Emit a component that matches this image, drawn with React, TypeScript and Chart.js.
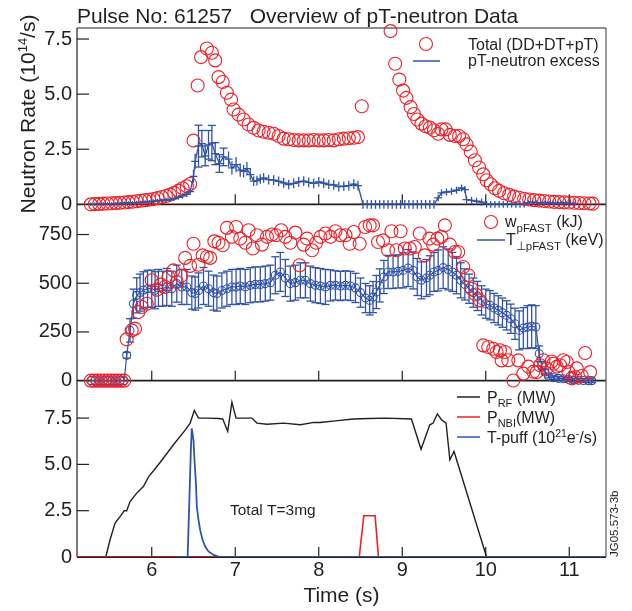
import React, { useEffect, useRef } from 'react';
import { Chart, registerables } from 'chart.js';

Chart.register(...registerables);

const FONT = "'Liberation Sans', Arial, Helvetica, sans-serif";
const INK = '#231f20';
const RED = 'rgb(236, 32, 40)';
const BLUE = 'rgb(50, 84, 166)';

// ---- axes ----
const X_MIN = 5.105;
const X_MAX = 11.44;
const X_TICKS = [6, 7, 8, 9, 10, 11];
const TOP_MAX = 8.0;
const MID_MAX = 905;
const BOT_MAX = 9.52;
const TOP_TICKS = [0, 2.5, 5, 7.5];
const MID_TICKS = [0, 250, 500, 750];
const BOT_TICKS = [0, 2.5, 5, 7.5];

// ---- top panel: total neutron rate (10^14/s) ----
const topTotalT = [5.27,5.32,5.37,5.42,5.47,5.52,5.57,5.62,5.67,5.72,5.77,5.82,5.87,5.92,5.97,6.02,6.07,6.12,6.17,6.22,6.27,6.32,6.37,6.42,6.46,
  6.50,6.55,6.59,6.66,6.72,6.76,6.80,6.85,6.90,6.95,
  6.98,7.04,7.10,7.16,7.22,7.28,7.34,7.40,7.46,7.52,
  7.58,7.64,7.70,7.76,7.82,7.88,7.94,8.00,8.06,8.12,
  8.18,8.24,8.30,8.36,8.42,8.47,8.515,
  8.86,8.915,8.965,9.01,9.05,9.10,9.14,9.18,9.23,9.28,
  9.33,9.38,9.43,9.47,9.52,9.57,9.63,9.68,9.73,9.77,
  9.82,9.87,9.92,9.97,10.01,10.06,10.11,10.16,10.22,10.28,
  10.34,10.40,10.46,10.52,10.58,10.64,10.70,10.76,10.82,10.88,
  10.94,11.00,11.06,11.12,11.18,11.24,11.28];
const topTotalV = [0.00,0.01,0.02,0.03,0.04,0.05,0.06,0.07,0.08,0.10,0.12,0.14,0.16,0.19,0.21,0.24,0.28,0.33,0.38,0.44,0.52,0.62,0.73,0.82,0.92,
  2.89,5.39,6.68,7.07,6.88,6.53,5.77,5.55,5.06,4.75,
  4.30,4.07,3.85,3.62,3.47,3.35,3.29,3.25,3.20,3.10,
  2.98,2.95,2.92,2.90,2.90,2.90,2.92,2.90,2.90,2.92,
  2.90,2.95,2.98,3.00,3.02,3.05,4.45,
  7.86,6.38,5.66,5.16,4.83,4.41,4.10,3.85,3.66,3.54,
  3.48,3.36,3.20,3.40,3.40,3.15,3.10,3.10,2.95,2.72,
  2.39,2.00,1.67,1.36,1.09,0.91,0.73,0.61,0.50,0.43,
  0.35,0.30,0.25,0.22,0.19,0.17,0.15,0.13,0.11,0.10,
  0.09,0.08,0.07,0.06,0.05,0.04,0.03];

// ---- top panel: pT-neutron excess ----
const topExT = [5.27,5.32,5.37,5.42,5.47,5.52,5.57,5.62,5.67,5.72,5.77,5.82,5.87,5.92,5.97,6.02,6.07,6.12,6.17,6.22,6.27,6.32,6.37,6.42,6.46,
  6.50,6.52,6.56,6.60,6.64,6.68,6.72,6.76,6.81,6.86,
  6.92,6.96,7.01,7.06,7.10,7.14,7.18,7.22,7.26,7.30,
  7.34,7.40,7.46,7.52,7.58,7.64,7.70,7.76,7.82,7.88,
  7.94,8.00,8.06,8.12,8.18,8.24,8.30,8.36,8.42,8.47,
  8.53,8.58,8.63,8.68,8.73,8.78,8.83,8.88,8.93,8.98,9.03,9.08,9.13,9.18,9.23,9.28,9.33,9.38,
  9.43,9.47,9.53,9.59,9.65,9.71,9.75,9.77,9.83,9.89,9.95,
  10.01,10.06,10.11,10.16,10.21,10.26,10.31,10.36,10.41,10.46,
  10.51,10.56,10.61,10.66,10.71,10.76,10.81,10.86,10.91,10.96,11.01,11.06];
const topExV = [0,0,0.01,0.01,0.02,0.02,0.03,0.04,0.05,0.06,0.07,0.08,0.09,0.10,0.12,0.14,0.16,0.18,0.20,0.22,0.26,0.32,0.38,0.45,0.58,
  1.27,1.95,2.64,2.75,2.20,2.70,2.78,2.30,1.85,2.15,
  2.05,1.65,1.80,1.55,1.50,1.62,1.35,1.05,1.08,1.15,
  1.20,1.12,1.10,1.04,0.97,0.90,0.95,1.02,1.05,1.00,
  0.95,1.02,0.96,0.90,0.88,0.80,0.82,0.85,0.92,0.85,
  0,0,0,0,0,0,0,0,0,0,0,0,0,0,0,0,0,0,
  0.29,0.52,0.56,0.59,0.64,0.74,0.67,0.21,0.18,0.14,0.10,
  0,0,0,0,0,0,0,0,0,0,
  0.08,0.10,0.08,0.07,0.09,0.06,0.07,0.05,0.06,0.05,0.04,0.03];
const topExE = [0.08,0.08,0.08,0.08,0.08,0.08,0.08,0.08,0.08,0.08,0.08,0.08,0.08,0.08,0.08,0.09,0.09,0.09,0.1,0.1,0.1,0.1,0.12,0.12,0.15,
  0.3,0.35,0.95,0.6,0.45,0.65,0.8,0.5,0.4,0.4,
  0.35,0.3,0.35,0.3,0.28,0.3,0.25,0.22,0.22,0.22,
  0.22,0.22,0.22,0.22,0.22,0.22,0.22,0.22,0.22,0.22,
  0.22,0.22,0.22,0.22,0.22,0.22,0.22,0.22,0.22,0.22,
  0.2,0.2,0.2,0.2,0.2,0.2,0.2,0.2,0.2,0.2,0.2,0.2,0.2,0.2,0.2,0.2,0.2,0.2,
  0.16,0.16,0.16,0.16,0.16,0.16,0.16,0.16,0.16,0.16,0.16,
  0.15,0.15,0.15,0.15,0.15,0.15,0.15,0.15,0.15,0.15,
  0.1,0.1,0.1,0.1,0.1,0.1,0.1,0.1,0.1,0.1,0.1,0.1];

// ---- middle panel: W pFAST (kJ) ----
const midWT = [5.27,5.31,5.35,5.39,5.43,5.47,5.51,5.55,5.59,5.63,5.67,
  5.70,5.76,5.80,5.84,5.88,5.94,6.00,6.06,6.11,6.16,
  6.20,6.26,6.30,6.35,6.40,6.46,6.50,6.56,6.61,6.66,
  6.70,6.75,6.80,6.85,6.90,6.96,7.01,7.06,7.12,7.16,
  7.21,7.26,7.32,7.38,7.44,7.49,7.55,7.60,7.66,7.72,
  7.77,7.82,7.86,7.92,7.97,8.02,8.08,8.14,8.20,8.26,
  8.32,8.37,8.42,8.49,8.555,8.61,8.65,8.71,8.77,8.83,
  8.87,8.93,8.98,9.03,9.09,9.15,9.21,9.27,9.325,9.37,
  9.42,9.47,9.51,9.57,9.63,9.67,9.73,9.79,9.83,9.88,
  9.93,9.97,10.03,10.09,10.13,10.17,10.19,10.23,10.27,10.33,
  10.39,10.45,10.51,10.57,10.61,10.65,10.69,10.73,10.79,10.81,
  10.85,10.89,10.93,10.97,10.99,11.03,11.07,11.09,11.15,11.19,
  11.25];
const midWV = [0,0,0,0,0,0,0,0,0,0,0,
  212,258,267,352,378,395,515,467,493,481,
  532,566,506,537,630,589,703,595,643,635,
  630,715,708,695,784,738,789,729,708,772,
  678,746,698,738,750,746,772,738,708,760,
  592,698,729,669,708,738,755,738,767,746,
  746,703,763,703,789,797,797,712,720,669,
  767,669,767,678,678,686,755,643,729,698,
  729,738,797,698,660,660,583,541,472,442,
  412,181,173,164,147,156,104,147,105,1,
  104,36,72,46,44,79,105,62,98,87,
  72,79,105,96,44,12,18,63,24,142,
  44];

// ---- middle panel: T perp pFAST (keV) ----
const midTT = [5.27,5.32,5.37,5.42,5.47,5.52,5.57,5.62,5.67,
  5.70,5.74,5.78,5.82,5.86,5.90,5.95,6.00,6.04,6.08,
  6.13,6.18,6.24,6.30,6.36,6.42,6.48,6.52,6.56,6.62,
  6.68,6.74,6.78,6.84,6.90,6.96,7.01,7.06,7.12,7.18,
  7.24,7.30,7.36,7.42,7.48,7.54,7.60,7.66,7.72,7.78,
  7.84,7.90,7.96,8.02,8.08,8.14,8.20,8.26,8.32,8.38,
  8.44,8.50,8.56,8.61,8.65,8.69,8.73,8.78,8.83,8.89,
  8.95,9.01,9.07,9.13,9.18,9.23,9.29,9.33,9.38,9.43,
  9.49,9.55,9.60,9.65,9.70,9.75,9.80,9.85,9.90,9.95,
  10.00,10.05,10.10,10.15,10.20,10.25,10.30,10.35,10.40,10.45,
  10.50,10.55,10.60,10.64,10.67,10.71,10.75,10.81,10.87,10.93,
  10.99,11.05,11.11,11.17,11.23,11.27];
const midTV = [0,0,0,0,0,0,0,0,0,
  130,258,395,438,452,464,472,472,464,476,
  472,481,472,498,481,481,452,447,463,486,
  472,452,447,463,472,481,481,486,481,490,
  494,494,498,503,541,558,527,498,503,515,
  515,498,490,486,481,489,489,486,489,486,
  476,452,424,412,429,455,489,532,558,558,
  561,566,578,566,532,515,527,541,558,566,
  580,571,558,541,515,494,472,452,435,412,
  395,387,373,361,349,335,318,292,258,270,
  275,279,275,138,78,44,24,15,12,10,
  7,3,2,1,0,0];
const midTE = [0,0,0,0,0,0,0,0,0,
  15,60,75,90,95,95,95,95,95,95,
  90,95,90,95,90,90,85,85,90,95,
  90,90,90,90,90,90,90,90,90,90,
  90,90,90,90,95,100,95,90,90,90,
  90,90,90,90,90,80,75,75,75,75,
  75,75,75,75,80,85,85,85,85,85,
  85,90,95,95,95,95,95,100,100,105,
  107,105,100,95,90,80,75,75,75,75,
  75,75,75,75,75,75,75,80,100,105,
  110,110,110,40,20,12,10,10,10,10,
  10,10,10,10,10,10];

// ---- bottom panel ----
const rfT = [5.45,5.50,5.56,5.62,5.67,5.70,5.74,5.82,5.90,5.96,6.10,6.26,6.40,6.46,6.51,6.56,6.66,6.80,6.85,6.91,6.96,7.01,7.20,7.26,7.38,7.58,7.78,7.94,8.015,8.20,8.415,8.60,8.81,9.11,9.225,9.33,9.37,9.42,9.47,9.525,9.57,9.62,10.01];
const rfV = [0,0.92,1.82,2.18,2.5,2.5,2.99,3.45,3.8,4.31,5.1,6.06,6.85,7.23,7.91,7.5,7.5,7.48,7.45,6.78,8.35,7.5,7.5,7.23,7.17,7.23,7.14,7.27,7.26,7.35,7.45,7.48,7.5,7.45,5.82,7.14,7.23,7.73,7.41,7.23,5.25,5.7,0];
const nbiT = [5.105,8.485,8.54,8.675,8.715,11.44];
const nbiV = [0,0,2.23,2.23,0,0];
const puffT = [6.30,6.43,6.45,6.47,6.48,6.50,6.51,6.53,6.54,6.56,6.58,6.61,6.64,6.68,6.74,6.80,6.86,11.44];
const puffV = [0,0,3.0,6.0,6.95,6.3,5.4,3.9,2.72,2.0,1.46,0.9,0.56,0.3,0.11,0.02,0,0];

// ---- text ----
const TITLE = 'Pulse No: 61257   Overview of pT-neutron Data';
const X_TITLE = 'Time (s)';
const NOTE = 'Total T=3mg';
const CODE = 'JG05.573-3b';

type Part = { t: string; s: number; dy?: number };

function pts(t: number[], v: number[]) {
  const n = Math.min(t.length, v.length);
  const out: { x: number; y: number }[] = [];
  for (let i = 0; i < n; i++) out.push({ x: t[i], y: v[i] });
  return out;
}

function richWidth(ctx: CanvasRenderingContext2D, parts: Part[]) {
  let w = 0;
  for (const p of parts) {
    ctx.font = `${p.s}px ${FONT}`;
    w += ctx.measureText(p.t).width;
  }
  return w;
}

function drawRich(ctx: CanvasRenderingContext2D, parts: Part[], x: number, y: number) {
  let cx = x;
  for (const p of parts) {
    ctx.font = `${p.s}px ${FONT}`;
    ctx.fillText(p.t, cx, y + (p.dy || 0));
    cx += ctx.measureText(p.t).width;
  }
}

function line(ctx: CanvasRenderingContext2D, x1: number, y1: number, x2: number, y2: number) {
  ctx.beginPath();
  ctx.moveTo(x1, y1);
  ctx.lineTo(x2, y2);
  ctx.stroke();
}

const errorBarPlugin = {
  id: 'errorBars',
  afterDatasetDraw(chart: any, args: any) {
    const ds = chart.data.datasets[args.index];
    if (!ds.errorBars) return;
    const meta = args.meta;
    const ys = chart.scales[meta.yAxisID];
    const ctx: CanvasRenderingContext2D = chart.ctx;
    ctx.save();
    ctx.strokeStyle = ds.borderColor;
    ctx.lineWidth = 1.3;
    meta.data.forEach((el: any, i: number) => {
      const e = ds.errorBars[i];
      if (!e) return;
      const v = ds.data[i].y;
      const top = ys.getPixelForValue(v + e);
      const bot = ys.getPixelForValue(v - e);
      line(ctx, el.x, top, el.x, bot);
      if ((bot - top) / 2 > ds.capMinHalf) {
        const hw = ds.capHalf;
        line(ctx, el.x - hw, top, el.x + hw, top);
        line(ctx, el.x - hw, bot, el.x + hw, bot);
      }
    });
    ctx.restore();
  },
};

const framePlugin = {
  id: 'frame',
  beforeDatasetsDraw(chart: any) {
    const ctx: CanvasRenderingContext2D = chart.ctx;
    const a = chart.chartArea;
    const xs = chart.scales.x;
    ctx.save();
    ctx.strokeStyle = INK;
    const panels: [string, number[]][] = [['yTop', TOP_TICKS], ['yMid', MID_TICKS], ['yBot', BOT_TICKS]];
    for (const [id, ticks] of panels) {
      const s = chart.scales[id];
      ctx.lineWidth = 1.2;
      for (const v of ticks) {
        if (v === 0) continue;
        const py = s.getPixelForValue(v);
        line(ctx, a.left, py, a.left + 12, py);
      }
      const base = s.getPixelForValue(0);
      for (const t of X_TICKS) {
        const px = xs.getPixelForValue(t);
        line(ctx, px, base, px, base - 10);
      }
      ctx.lineWidth = 1.8;
      line(ctx, a.left, base, a.right, base);
    }
    ctx.lineWidth = 1.2;
    line(ctx, a.left, a.top, a.right, a.top);
    line(ctx, a.left, a.top, a.left, a.bottom);
    ctx.strokeStyle = '#555';
    line(ctx, a.right, a.top, a.right, a.bottom);
    ctx.restore();
  },
};

const textPlugin = {
  id: 'texts',
  afterDraw(chart: any) {
    const ctx: CanvasRenderingContext2D = chart.ctx;
    ctx.save();
    ctx.fillStyle = INK;
    ctx.textBaseline = 'alphabetic';
    ctx.textAlign = 'left';

    // main title
    ctx.font = `21px ${FONT}`;
    ctx.fillText(TITLE, 77, 23);

    // y title (rotated)
    const yParts: Part[] = [
      { t: 'Neutron Rate (10', s: 21 },
      { t: '14', s: 13, dy: -8 },
      { t: '/s)', s: 21 },
    ];
    ctx.save();
    ctx.translate(35, 114);
    ctx.rotate(-Math.PI / 2);
    drawRich(ctx, yParts, -richWidth(ctx, yParts) / 2, 0);
    ctx.restore();

    // top legend
    ctx.strokeStyle = RED;
    ctx.lineWidth = 1.1;
    ctx.beginPath();
    ctx.arc(426, 44, 6.5, 0, Math.PI * 2);
    ctx.stroke();
    ctx.strokeStyle = BLUE;
    ctx.lineWidth = 1.5;
    line(ctx, 413, 61, 440, 61);
    drawRich(ctx, [{ t: 'Total (DD+DT+pT)', s: 16 }], 468, 49.5);
    drawRich(ctx, [{ t: 'pT-neutron excess', s: 16 }], 468, 66);

    // middle legend
    ctx.strokeStyle = RED;
    ctx.lineWidth = 1.1;
    ctx.beginPath();
    ctx.arc(491, 222, 6.5, 0, Math.PI * 2);
    ctx.stroke();
    ctx.strokeStyle = BLUE;
    ctx.lineWidth = 1.5;
    line(ctx, 477, 240, 505, 240);
    drawRich(ctx, [{ t: 'w', s: 16 }, { t: 'pFAST', s: 11.5, dy: 5 }, { t: ' (kJ)', s: 16 }], 505, 227);
    drawRich(ctx, [{ t: 'T', s: 16 }, { t: '\u22A5pFAST', s: 11.5, dy: 5 }, { t: ' (keV)', s: 16 }], 506, 245);

    // bottom legend
    ctx.lineWidth = 1.5;
    ctx.strokeStyle = INK;
    line(ctx, 457, 397, 480, 397);
    ctx.strokeStyle = RED;
    line(ctx, 457, 417, 480, 417);
    ctx.strokeStyle = BLUE;
    line(ctx, 457, 437, 480, 437);
    drawRich(ctx, [{ t: 'P', s: 16 }, { t: 'RF', s: 11, dy: 4 }, { t: ' (MW)', s: 16 }], 487, 403);
    drawRich(ctx, [{ t: 'P', s: 16 }, { t: 'NBI', s: 11, dy: 4 }, { t: '(MW)', s: 16 }], 487, 423);
    drawRich(ctx, [{ t: 'T-puff (10', s: 16 }, { t: '21', s: 10.5, dy: -6 }, { t: 'e', s: 16 }, { t: '-', s: 10.5, dy: -6 }, { t: '/s)', s: 16 }], 487, 443);

    // annotation
    ctx.font = `15.5px ${FONT}`;
    ctx.fillText(NOTE, 230, 515);

    // figure code
    ctx.save();
    ctx.translate(618, 557);
    ctx.rotate(-Math.PI / 2);
    ctx.font = `11.5px ${FONT}`;
    ctx.fillText(CODE, 0, 0);
    ctx.restore();

    ctx.restore();
  },
};

function yScale(min: number, max: number, ticks: number[], weight: number, fmt: (v: number) => string) {
  return {
    type: 'linear',
    position: 'left',
    stack: 'panels',
    stackWeight: 1,
    weight,
    min,
    max,
    grid: { display: false, drawTicks: false, tickLength: 0 },
    border: { display: false },
    afterBuildTicks: (s: any) => {
      s.ticks = ticks.map((v) => ({ value: v }));
    },
    afterFit: (s: any) => {
      s.width = 77;
    },
    ticks: {
      padding: 5,
      color: INK,
      font: { family: FONT, size: 20 },
      callback: (v: any) => fmt(Number(v)),
    },
  };
}

export default function App() {
  const ref = useRef<HTMLCanvasElement>(null);
  useEffect(() => {
    const dec = (v: number) => (v === 0 ? '0' : v.toFixed(1));
    const chart = new Chart(ref.current as HTMLCanvasElement, {
      type: 'line',
      data: {
        datasets: [
          {
            label: 'pT-neutron excess',
            data: pts(topExT, topExV),
            yAxisID: 'yTop',
            xAxisID: 'x',
            borderColor: BLUE,
            borderWidth: 1.3,
            pointStyle: 'line',
            pointRadius: 4,
            pointBorderWidth: 1.3,
            pointBorderColor: BLUE,
            fill: false,
            order: 0,
            errorBars: topExE,
            capHalf: 4,
            capMinHalf: 8,
          } as any,
          {
            label: 'Total (DD+DT+pT)',
            data: pts(topTotalT, topTotalV),
            yAxisID: 'yTop',
            xAxisID: 'x',
            showLine: false,
            borderColor: RED,
            backgroundColor: 'rgba(0,0,0,0)',
            pointRadius: 6.5,
            pointBorderWidth: 1.1,
            pointBackgroundColor: 'rgba(0,0,0,0)',
            pointBorderColor: RED,
            clip: false,
            order: 2,
          } as any,
          {
            label: 'w pFAST (kJ)',
            data: pts(midWT, midWV),
            yAxisID: 'yMid',
            xAxisID: 'x',
            showLine: false,
            borderColor: RED,
            backgroundColor: 'rgba(0,0,0,0)',
            pointRadius: 6.5,
            pointBorderWidth: 1.1,
            pointBackgroundColor: 'rgba(0,0,0,0)',
            pointBorderColor: RED,
            clip: false,
            order: 0,
          } as any,
          {
            label: 'T perp pFAST (keV)',
            data: pts(midTT, midTV),
            yAxisID: 'yMid',
            xAxisID: 'x',
            borderColor: BLUE,
            borderWidth: 1.2,
            pointRadius: 4,
            pointBorderWidth: 1.1,
            pointBorderColor: BLUE,
            pointBackgroundColor: 'rgba(0,0,0,0)',
            fill: false,
            clip: false,
            order: 2,
            errorBars: midTE,
            capHalf: 4,
            capMinHalf: 0,
          } as any,
          {
            label: 'T-puff',
            data: pts(puffT, puffV),
            yAxisID: 'yBot',
            xAxisID: 'x',
            borderColor: BLUE,
            borderWidth: 1.8,
            pointRadius: 0,
            fill: false,
            order: 0,
          } as any,
          {
            label: 'P NBI',
            data: pts(nbiT, nbiV),
            yAxisID: 'yBot',
            xAxisID: 'x',
            borderColor: RED,
            borderWidth: 1.6,
            pointRadius: 0,
            fill: false,
            order: 1,
          } as any,
          {
            label: 'P RF',
            data: pts(rfT, rfV),
            yAxisID: 'yBot',
            xAxisID: 'x',
            borderColor: INK,
            borderWidth: 1.4,
            pointRadius: 0,
            fill: false,
            order: 2,
          } as any,
        ],
      },
      options: {
        responsive: false,
        animation: false,
        devicePixelRatio: 1,
        events: [],
        layout: { padding: { left: 0, right: 26, top: 28, bottom: 0 } },
        elements: { line: { tension: 0 } },
        plugins: {
          legend: { display: false },
          tooltip: { enabled: false },
          title: { display: false },
        },
        scales: {
          x: {
            type: 'linear',
            position: 'bottom',
            min: X_MIN,
            max: X_MAX,
            grid: { display: false, drawTicks: false, tickLength: 0 },
            border: { display: false },
            afterBuildTicks: (s: any) => {
              s.ticks = X_TICKS.map((v) => ({ value: v }));
            },
            afterFit: (s: any) => {
              s.height = 54;
            },
            ticks: {
              autoSkip: false,
              maxRotation: 0,
              padding: 1,
              color: INK,
              font: { family: FONT, size: 20 },
              callback: (v: any) => String(v),
            },
            title: {
              display: true,
              text: X_TITLE,
              color: INK,
              font: { family: FONT, size: 21 },
              padding: { top: 0, bottom: 2 },
            },
          },
          yBot: yScale(0, BOT_MAX, BOT_TICKS, 1, dec),
          yMid: yScale(0, MID_MAX, MID_TICKS, 2, (v) => String(Math.round(v))),
          yTop: yScale(0, TOP_MAX, TOP_TICKS, 3, dec),
        } as any,
      },
      plugins: [framePlugin, errorBarPlugin, textPlugin],
    } as any);
    return () => chart.destroy();
  }, []);
  return (
    <div style={{ position: 'absolute', left: 0, top: 0, width: 632, height: 611, background: '#fff' }}>
      <canvas ref={ref} width={632} height={611} style={{ display: 'block', width: 632, height: 611 }} />
    </div>
  );
}
